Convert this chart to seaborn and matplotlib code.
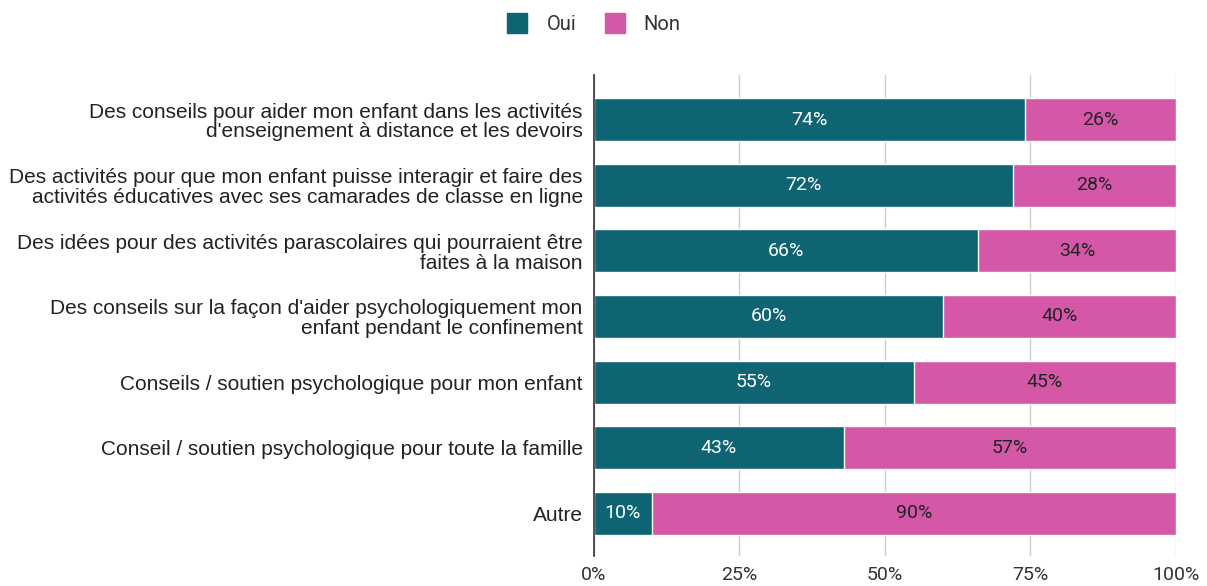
import matplotlib
matplotlib.use("Agg")
import matplotlib.pyplot as plt
from matplotlib.lines import Line2D
import seaborn as sns
import pandas as pd

categories = [
    "Des conseils pour aider mon enfant dans les activités\nd'enseignement à distance et les devoirs",
    "Des activités pour que mon enfant puisse interagir et faire des\nactivités éducatives avec ses camarades de classe en ligne",
    "Des idées pour des activités parascolaires qui pourraient être\nfaites à la maison",
    "Des conseils sur la façon d'aider psychologiquement mon\nenfant pendant le confinement",
    "Conseils / soutien psychologique pour mon enfant",
    "Conseil / soutien psychologique pour toute la famille",
    "Autre",
]
oui = [74, 72, 66, 60, 55, 43, 10]
non = [26, 28, 34, 40, 45, 57, 90]
series_names = ["Oui", "Non"]
x_ticks = [0, 25, 50, 75, 100]
x_tick_labels = ["0%", "25%", "50%", "75%", "100%"]

TEAL = "#0E6472"
PINK = "#D558A8"

sns.set_theme(style="white")
plt.rcParams["font.family"] = ["Roboto", "DejaVu Sans"]

df = pd.DataFrame({"cat": categories, "Oui": oui, "Non": non})
df["total"] = df["Oui"] + df["Non"]

fig = plt.figure(figsize=(12.07, 5.86), dpi=100)
ax = fig.add_axes([0.492, 0.0512, 0.4823, 0.8208])

# Full-length bar in the "Non" colour, with the "Oui" share drawn on top
sns.barplot(data=df, x="total", y="cat", color=PINK, width=0.655,
            saturation=1, ax=ax, zorder=2)
sns.barplot(data=df, x="Oui", y="cat", color=TEAL, width=0.655,
            saturation=1, ax=ax, zorder=3)

for i, (o, n) in enumerate(zip(oui, non)):
    ax.text(o / 2, i, f"{o}%", ha="center", va="center", color="white",
            fontsize=14, zorder=4)
    ax.text(o + n / 2, i, f"{n}%", ha="center", va="center", color="#222222",
            fontsize=14, zorder=4)

ax.set_xlim(0, 100)
ax.set_ylim(6.65, -0.68)
ax.set_xticks(x_ticks)
ax.set_xticklabels(x_tick_labels, fontsize=14, color="#333333")
ax.set_xlabel("")
ax.set_ylabel("")
ax.tick_params(axis="x", length=0, pad=7)
ax.tick_params(axis="y", length=0, pad=8)
for lbl in ax.get_yticklabels():
    lbl.set_fontfamily(["Liberation Sans", "DejaVu Sans"])
    lbl.set_fontsize(15)
    lbl.set_color("#222222")
    lbl.set_multialignment("right")
    lbl.set_linespacing(1.05)

ax.grid(axis="x", color="#CCCCCC", linewidth=1, zorder=0)
ax.set_axisbelow(True)
for side in ["top", "right", "bottom"]:
    ax.spines[side].set_visible(False)
ax.spines["left"].set_color("#333333")
ax.spines["left"].set_linewidth(1.2)
ax.spines["left"].set_zorder(5)

handles = [
    Line2D([0], [0], marker="s", linestyle="none", markersize=14,
           markerfacecolor=TEAL, markeredgecolor=TEAL),
    Line2D([0], [0], marker="s", linestyle="none", markersize=14,
           markerfacecolor=PINK, markeredgecolor=PINK),
]
fig.legend(handles, series_names, loc="upper center", bbox_to_anchor=(0.488, 1.006),
           ncol=2, frameon=False, fontsize=14.5, handletextpad=0.45,
           columnspacing=0.9, labelcolor="#333333")

fig.savefig("out.png", dpi=100)
